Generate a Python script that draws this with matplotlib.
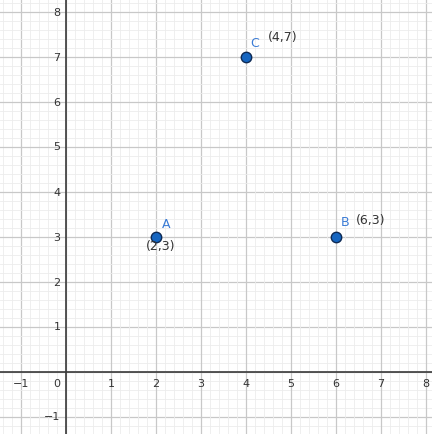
import matplotlib
matplotlib.use("Agg")
import matplotlib.pyplot as plt
import numpy as np

names = ["A", "B", "C"]
xs = [2, 6, 4]
ys = [3, 3, 7]
coord_labels = ["(2,3)", "(6,3)", "(4,7)"]
x_ticks = [-1, 1, 2, 3, 4, 5, 6, 7, 8]
y_ticks = [-1, 1, 2, 3, 4, 5, 6, 7, 8]

fig = plt.figure(figsize=(4.32, 4.35), dpi=100)
ax = fig.add_axes([0, 0, 1, 1])
ax.set_xlim(-66 / 45, (432 - 66) / 45)
ax.set_ylim(-(435 - 372.5) / 45, 372.5 / 45)
for s in ax.spines.values():
    s.set_visible(False)
ax.set_xticks([]); ax.set_yticks([])

# grid
for v in np.arange(-2, 9.01, 0.2):
    major = abs(v - round(v)) < 1e-6
    c = "#c8c8c8" if major else "#ececec"
    lw = 0.9 if major else 0.6
    ax.axvline(v, color=c, lw=lw, zorder=0)
    ax.axhline(v, color=c, lw=lw, zorder=0)

ax.axhline(0, color="#3a3a3a", lw=1.2, zorder=1)
ax.axvline(0, color="#3a3a3a", lw=1.2, zorder=1)

fs = 8
tc = "#333333"
for t in x_ticks:
    ax.text(t, -0.15, str(t).replace("-", "\u2212"), ha="center", va="top", fontsize=fs, color=tc)
for t in y_ticks:
    ax.text(-0.12, t, str(t).replace("-", "\u2212"), ha="right", va="center", fontsize=fs, color=tc)
ax.text(-0.12, -0.15, "0", ha="right", va="top", fontsize=fs, color=tc)

ax.plot(xs, ys, "o", ms=7.5, mfc="#1565c0", mec="#0d2a55", mew=1.0, ls="none", zorder=5)

name_off = {"A": (0.22, 0.3), "B": (0.2, 0.33), "C": (0.2, 0.32)}
coord_off = {"(2,3)": (0.1, -0.2), "(6,3)": (0.78, 0.38), "(4,7)": (0.82, 0.45)}
for n, x, y, cl in zip(names, xs, ys, coord_labels):
    dx, dy = name_off[n]
    ax.text(x + dx, y + dy, n, ha="center", va="center", fontsize=9, color="#3a7bd5", zorder=6)
    dx, dy = coord_off[cl]
    ax.text(x + dx, y + dy, cl, ha="center", va="center", fontsize=9, color="#333333", zorder=6)

fig.savefig("out.png", dpi=100)
